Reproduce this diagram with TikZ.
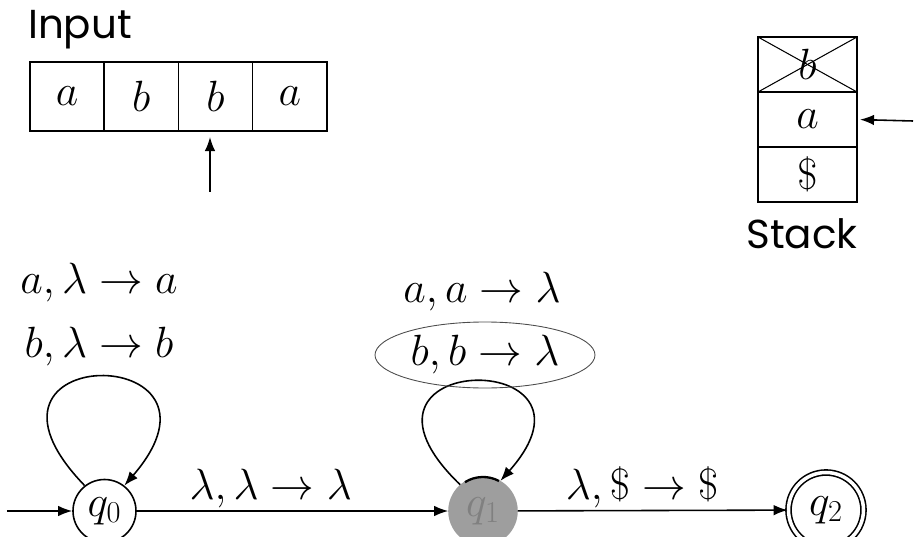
\documentclass[tikz,border=0pt]{standalone}
\usepackage{fontspec}
\usepackage{amsmath,amssymb}
\usepackage{tikz}
\usetikzlibrary{arrows.meta,positioning,shapes.geometric}
\newfontfamily\handfont{Poppins}

\begin{document}
\begin{tikzpicture}[
    cell/.style={draw, line width=0.8pt, minimum width=1.485cm, minimum height=1.38cm,
      inner sep=0pt, outer sep=0pt, font=\fontsize{26}{30}\selectfont},
    stackcell/.style={cell, minimum width=1.98cm, minimum height=1.1cm},
    state/.style={circle, draw, line width=0.9pt, minimum size=1.26cm, inner sep=0pt,
      font=\fontsize{24}{28}\selectfont},
    trans/.style={font=\fontsize{26}{30}\selectfont, inner sep=1pt},
    title/.style={font=\handfont\fontsize{23}{27}\selectfont},
    arr/.style={-{Latex[length=8pt,width=6pt]}, line width=0.9pt},
  ]
  \useasboundingbox (0,0) rectangle (18.38,-10.74);

  % Top left: input tape
  \node[title] (input) at (1.6,-0.6) {Input};
  \node[cell] (t1) at (1.34,-1.93) {$a$};
  \node[cell, right=0pt of t1] (t2) {$b$};
  \node[cell, right=0pt of t2] (t3) {$b$};
  \node[cell, right=0pt of t3] (t4) {$a$};
  \coordinate (head) at (4.2,-3.84);
  \draw[arr, shorten >=0.12cm] (head) -- (head |- t3.south);

  % Top right: stack
  \node[stackcell] (s1) at (16.15,-1.29) {$b$};
  \node[stackcell, below=0pt of s1] (s2) {$a$};
  \node[stackcell, below=0pt of s2] (s3) {$\$$};
  \draw[line width=0.6pt] (s1.north west) -- (s1.south east);
  \draw[line width=0.6pt] (s1.south west) -- (s1.north east);
  \coordinate (top) at (18.26,-2.42);
  \draw[arr, shorten >=0.06cm] (top) -- (s2.east);
  \node[title] (stack) at (16.04,-4.68) {Stack};

  % States
  \node[state] (q0) at (2.09,-10.22) {$q_0$};
  \node[state, minimum size=1.36cm, fill=black!38, draw=black!38,
    text=black!50] (q1) at (9.66,-10.22) {$q_1$};
  \draw[line width=1.3pt] ([shift={(122:0.68)}]q1.center) arc[start angle=122, end angle=62, radius=0.68];
  \node[state, double, double distance=2pt, minimum size=1.5cm] (q2) at (16.52,-10.2) {$q_2$};

  % Transitions
  \coordinate (start) at (0.14,-10.22);
  \draw[arr] (start) -- (q0);
  \draw[arr] (q0) -- node[trans, above, pos=0.43] {$\lambda,\lambda\to\lambda$} (q1);
  \draw[arr] (q1) -- node[trans, above, pos=0.46] {$\lambda,\$\to\$$} (q2);

  % Self loops
  \draw[arr] (q0.128) .. controls +(-2.8,2.9) and +(2.5,2.9) .. (q0.52);
  \node[trans] (push-a) at (1.98,-5.66) {$a,\lambda\to a$};
  \node[trans] (push-b) at (1.98,-6.94) {$b,\lambda\to b$};

  \draw[arr] (q1.131) .. controls +(-2.8,2.7) and +(2.4,2.7) .. (q1.60);
  \node[trans] (pop-a) at (9.64,-5.84) {$a,a\to\lambda$};
  \node[trans, ellipse, draw=black!70, line width=0.5pt, minimum width=4.4cm,
    minimum height=1.32cm, inner sep=0pt] (pop-b) at (9.7,-7.1) {$b,b\to\lambda$};

\end{tikzpicture}
\end{document}
